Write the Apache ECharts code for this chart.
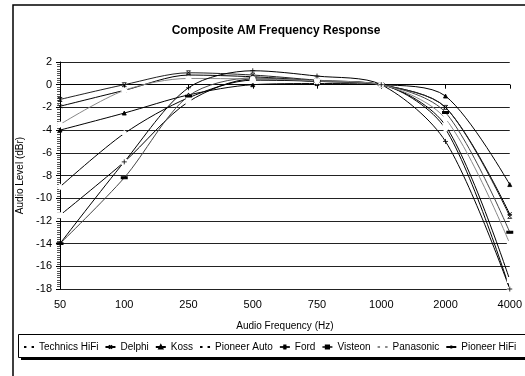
<!DOCTYPE html>
<html><head><meta charset="utf-8">
<script src="https://cdn.jsdelivr.net/npm/echarts@6/dist/echarts.min.js"></script>
<style>html,body{margin:0;padding:0;background:#fff}#c{width:525px;height:376px}</style>
</head><body><div id="c"></div>
<script>
var categories = ['50','100','250','500','750','1000','2000','4000'];
var seriesNames = ['Technics HiFi','Delphi','Koss','Pioneer Auto','Ford','Visteon','Panasonic','Pioneer HiFi'];
var technics    = [-11.5, -6.8, -1.5, 0.5, 0.3, 0, -3.6, -17.2];
var delphi      = [-1.9, -0.5, 0.85, 0.7, 0.35, 0, -2.0, -11.4];
var koss        = [-4.0, -2.5, -0.9, 0.0, 0.1, 0, -1.0, -8.8];
var pioneerAuto = [-9.0, -4.3, -1.15, 0.4, 0.3, 0, -3.9, -18.0];
var ford        = [-1.3, 0.0, 1.05, 0.85, 0.4, 0, -2.0, -11.6];
var visteon     = [-14.0, -8.2, -1.0, 0.6, 0.3, 0, -2.45, -13.0];
var panasonic   = [-3.5, -0.5, 0.55, 0.5, 0.35, 0, -3.0, -14.0];
var pioneerHifi = [-14.0, -6.8, -0.27, 1.23, 0.76, 0, -5.0, -18.0];
var yTicks = {min: -18, max: 2, interval: 2};

var seriesData = [technics, delphi, koss, pioneerAuto, ford, visteon, panasonic, pioneerHifi];
var X = 'path://M0,0L10,10M10,0L0,10';
var FORD = 'path://M0,0L10,10M10,0L0,10M0,0L10,0M0,10L10,10';
var PLUS = 'path://M5,0L5,10M0,5L10,5';
var styles = [
  {sym:'emptyRect', size:4, color:'#000', fill:'#fff'},
  {sym:X, size:4, color:'#000', fill:'#fff'},
  {sym:'triangle', size:4, color:'#000', fill:'#000'},
  {sym:'emptyDiamond', size:4, color:'#000', fill:'#fff'},
  {sym:FORD, size:4, color:'#222', fill:'#fff'},
  {sym:'rect', size:[5,2], color:'#444', fill:'#000'},
  {sym:'emptyCircle', size:4, color:'#888', fill:'#fff'},
  {sym:PLUS, size:5, color:'#000', fill:'#fff'}
];
var series = seriesNames.map(function(n,i){
  var s = styles[i];
  return {
    name:n, type:'line', data:seriesData[i], smooth:0.3,
    symbol:s.sym, symbolSize:s.size, showAllSymbol:true,
    lineStyle:{color:s.color, width:1},
    itemStyle:{color:s.fill, borderColor:'#000', borderWidth:0.8},
    emphasis:{disabled:true}, animation:false, z:3
  };
});
var chart = echarts.init(document.getElementById('c'), null, {renderer:'canvas'});
chart.setOption({
  backgroundColor:'#fff',
  animation:false,
  title:{text:'Composite AM Frequency Response', left:271, top:20, textAlign:'center',
    textStyle:{fontFamily:'Liberation Sans, Arial', fontSize:12, fontWeight:'bold', color:'#000'}},
  graphic:[
    {type:'rect', shape:{x:13, y:5, width:520, height:400}, style:{fill:'none', stroke:'#000', lineWidth:1.5}, z:-1},
    {type:'rect', shape:{x:21, y:337, width:520, height:23}, style:{fill:'#000'}, z:-1},
    {type:'rect', shape:{x:18.5, y:334.5, width:520, height:23}, style:{fill:'#fff', stroke:'#000', lineWidth:1}, z:-1}
  ],
  grid:{left:60, right:14, top:62, bottom:87, containLabel:false},
  legend:{
    data:seriesNames, left:23, top:342, width:510, itemWidth:10, itemHeight:4, itemGap:6,
    textStyle:{fontFamily:'Liberation Sans, Arial', fontSize:10, color:'#000'},
    padding:0, selectedMode:false
  },
  xAxis:{
    type:'category', data:categories, boundaryGap:false,
    name:'Audio Frequency (Hz)', nameLocation:'middle', nameGap:32,
    nameTextStyle:{fontFamily:'Liberation Sans, Arial', fontSize:10, color:'#000'},
    axisLine:{lineStyle:{color:'#000', width:1}},
    axisTick:{show:true, length:4, lineStyle:{color:'#000'}},
    axisLabel:{fontFamily:'Liberation Sans, Arial', fontSize:11, color:'#000', margin:10},
    splitLine:{show:false}
  },
  yAxis:{
    type:'value', min:yTicks.min, max:yTicks.max, interval:yTicks.interval,
    name:'Audio Level (dBr)', nameLocation:'middle', nameGap:33,
    nameTextStyle:{fontFamily:'Liberation Sans, Arial', fontSize:10, color:'#000'},
    axisLine:{show:true, lineStyle:{color:'#000', width:1}},
    axisTick:{show:true, length:4, lineStyle:{color:'#000'}},
    minorTick:{show:true, splitNumber:10, length:3, lineStyle:{color:'#555'}},
    axisLabel:{fontFamily:'Liberation Sans, Arial', fontSize:11, color:'#000', margin:8},
    splitLine:{show:true, lineStyle:{color:'#222', width:1}}
  },
  series:series
});
</script></body></html>
